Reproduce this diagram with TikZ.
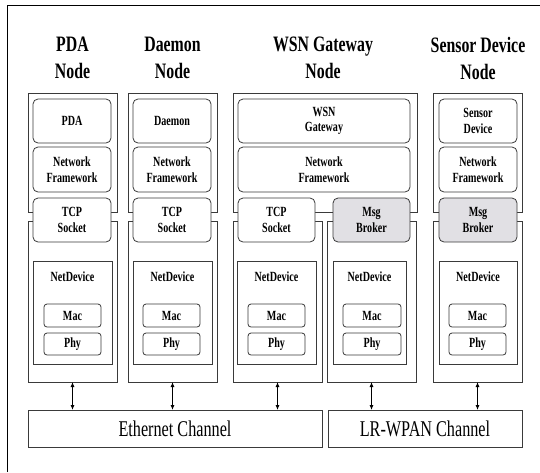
\documentclass[tikz,border=0pt]{standalone}
\usepackage{fontspec}
\usepackage{graphicx}
\setmainfont{Liberation Serif}
\usetikzlibrary{arrows.meta}
\definecolor{edge}{HTML}{3A3A3A}
\definecolor{brokerfill}{HTML}{E1E0E4}

% condensed text: the serif face squeezed horizontally
\newcommand\nar[1]{\scalebox{0.72}[1]{#1}}

% \blk{name}{style}{x0}{y0}{x1}{y1}{text}: a box given by its corners
\newcommand\blk[7]{%
  \node[#2, minimum width={(#5-#3)*1pt}, minimum height={(#6-#4)*1pt}]
    (#1) at ({(#3+#5)/2},{(#4+#6)/2}) {#7};}

\tikzset{
  every node/.style={inner sep=0pt, outer sep=0pt},
  colbox/.style={draw=edge, line width=0.8pt},
  layer/.style={draw=edge, line width=0.8pt, fill=white, rounded corners=5pt,
    align=center, font=\lblfont},
  broker/.style={layer, fill=brokerfill},
  devbox/.style={draw=edge, line width=0.8pt, fill=white},
  hwbox/.style={draw=edge, line width=0.8pt, fill=white, rounded corners=3pt,
    font=\lblfont},
  devlabel/.style={font=\lblfont},
  chan/.style={draw=edge, line width=0.8pt, font=\chanfont},
  title/.style={align=center, font=\titlefont},
  biarrow/.style={draw=black, line width=0.8pt,
    {Latex[length=5pt,width=4pt]}-{Latex[length=5pt,width=4pt]}},
}
\newcommand\lblfont{\fontsize{14}{15.5}\selectfont\bfseries}
\newcommand\chanfont{\fontsize{22.5}{26}\selectfont}
\newcommand\titlefont{\fontsize{22}{27}\selectfont\bfseries}

\begin{document}
\begin{tikzpicture}[x=1pt, y=-1pt]
\useasboundingbox (0,0) rectangle (540,472);

% outer frame (left and top edges)
\draw[line width=0.9pt] (7,472) -- (7,5) -- (540,5);

% titles
\node[title] (tPda)  at (72.5,58)  {\nar{PDA}\\\nar{Node}};
\node[title] (tDae)  at (172.5,58) {\nar{Daemon}\\\nar{Node}};
\node[title] (tWsn)  at (323,58)   {\nar{WSN Gateway}\\\nar{Node}};
\node[title] (tSen)  at (478,58)   {\nar{Sensor Device}\\\nar{Node}};

% column frames: upper (software) and lower (device) parts
\blk{pdaUp}{colbox}{28}{93}{117}{212}{}
\blk{pdaLow}{colbox}{28}{221}{117}{382}{}
\blk{daeUp}{colbox}{128}{93}{217}{212}{}
\blk{daeLow}{colbox}{128}{221}{217}{382}{}
\blk{wsnUp}{colbox}{233}{93}{417}{212}{}
\blk{wsnLowA}{colbox}{233}{221}{322}{382}{}
\blk{wsnLowB}{colbox}{327}{221}{416}{382}{}
\blk{senUp}{colbox}{433}{93}{522}{212}{}
\blk{senLow}{colbox}{433}{221}{522}{382}{}

% software layers
\blk{pdaApp}{layer}{33}{99}{111}{143}{\nar{PDA}}
\blk{pdaFw}{layer}{33}{147}{111}{192}{\nar{Network}\\\nar{Framework}}
\blk{pdaSock}{layer}{33}{198}{111}{242}{\nar{TCP}\\\nar{Socket}}

\blk{daeApp}{layer}{133}{99}{211}{143}{\nar{Daemon}}
\blk{daeFw}{layer}{133}{147}{211}{192}{\nar{Network}\\\nar{Framework}}
\blk{daeSock}{layer}{133}{198}{211}{242}{\nar{TCP}\\\nar{Socket}}

\blk{wsnApp}{layer}{238}{99}{410}{143}{\nar{WSN}\\\nar{Gateway}}
\blk{wsnFw}{layer}{238}{147}{410}{192}{\nar{Network}\\\nar{Framework}}
\blk{wsnSock}{layer}{238}{198}{315}{242}{\nar{TCP}\\\nar{Socket}}
\blk{wsnBrk}{broker}{333}{198}{410}{242}{\nar{Msg}\\\nar{Broker}}

\blk{senApp}{layer}{439}{99}{517}{143}{\nar{Sensor}\\\nar{Device}}
\blk{senFw}{layer}{439}{147}{517}{192}{\nar{Network}\\\nar{Framework}}
\blk{senBrk}{broker}{439}{198}{517}{242}{\nar{Msg}\\\nar{Broker}}

% net devices with MAC and PHY
\blk{pdaDev}{devbox}{33}{261}{112}{364}{}
\blk{pdaMac}{hwbox}{44}{304}{101}{327}{\nar{Mac}}
\blk{pdaPhy}{hwbox}{44}{333}{101}{355}{\nar{Phy}}
\node[devlabel] (pdaDevTxt) at ([yshift=-16pt]pdaDev.north) {\nar{NetDevice}};

\blk{daeDev}{devbox}{133}{261}{212}{364}{}
\blk{daeMac}{hwbox}{143}{304}{200}{327}{\nar{Mac}}
\blk{daePhy}{hwbox}{143}{333}{200}{355}{\nar{Phy}}
\node[devlabel] (daeDevTxt) at ([yshift=-16pt]daeDev.north) {\nar{NetDevice}};

\blk{wsnDevA}{devbox}{237}{261}{316}{364}{}
\blk{wsnMacA}{hwbox}{248}{304}{305}{327}{\nar{Mac}}
\blk{wsnPhyA}{hwbox}{248}{333}{305}{355}{\nar{Phy}}
\node[devlabel] (wsnDevATxt) at ([yshift=-16pt]wsnDevA.north) {\nar{NetDevice}};

\blk{wsnDevB}{devbox}{333}{261}{406}{364}{}
\blk{wsnMacB}{hwbox}{343}{304}{401}{327}{\nar{Mac}}
\blk{wsnPhyB}{hwbox}{343}{333}{401}{355}{\nar{Phy}}
\node[devlabel] (wsnDevBTxt) at ([yshift=-16pt]wsnDevB.north) {\nar{NetDevice}};

\blk{senDev}{devbox}{439}{261}{517}{364}{}
\blk{senMac}{hwbox}{449}{304}{506}{327}{\nar{Mac}}
\blk{senPhy}{hwbox}{449}{333}{506}{355}{\nar{Phy}}
\node[devlabel] (senDevTxt) at ([yshift=-16pt]senDev.north) {\nar{NetDevice}};

% channels
\blk{ethCh}{chan}{28}{410}{322}{447}{\nar{Ethernet Channel}}
\blk{lrCh}{chan}{328}{410}{522}{447}{\nar{LR-WPAN Channel}}

% device-to-channel links
\draw[biarrow] (pdaLow.south)  -- (pdaLow.south  |- ethCh.north);
\draw[biarrow] (daeLow.south)  -- (daeLow.south  |- ethCh.north);
\draw[biarrow] (wsnLowA.south) -- (wsnLowA.south |- ethCh.north);
\draw[biarrow] (wsnLowB.south) -- (wsnLowB.south |- lrCh.north);
\draw[biarrow] (senLow.south)  -- (senLow.south  |- lrCh.north);
\end{tikzpicture}
\end{document}
